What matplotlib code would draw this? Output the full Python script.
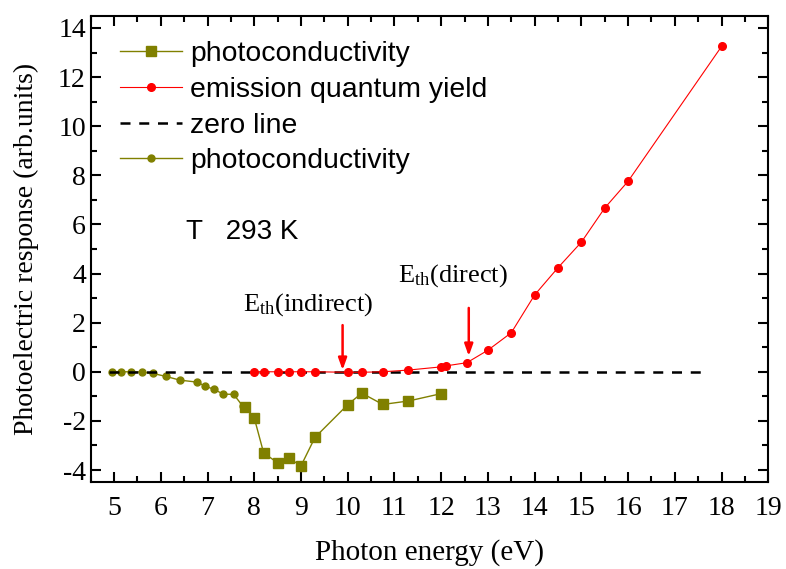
import matplotlib
matplotlib.use("Agg")
import matplotlib.pyplot as plt
from matplotlib.ticker import MultipleLocator

# Data
pc_sq_x = [7.8, 8.0, 8.2, 8.5, 8.75, 9.0, 9.3, 10.0, 10.3, 10.75, 11.3, 12.0]
pc_sq_y = [-1.42, -1.88, -3.30, -3.71, -3.53, -3.83, -2.67, -1.34, -0.87, -1.33, -1.19, -0.89]

pc_ci_x = [4.95, 5.14, 5.36, 5.59, 5.84, 6.11, 6.41, 6.77, 6.95, 7.14, 7.34, 7.56, 7.75]
pc_ci_y = [0.0, 0.0, 0.0, -0.01, -0.07, -0.19, -0.34, -0.42, -0.58, -0.72, -0.91, -0.92, -1.39]

eqy_x = [8.0, 8.2, 8.5, 8.75, 9.0, 9.3, 10.0, 10.3, 10.75, 11.3, 12.0, 12.1, 12.55,
         13.0, 13.5, 14.0, 14.5, 15.0, 15.5, 16.0, 18.0]
eqy_y = [0.0, 0.0, 0.0, 0.0, 0.0, 0.0, -0.02, -0.02, 0.0, 0.07, 0.2, 0.24, 0.37,
         0.88, 1.59, 3.13, 4.24, 5.28, 6.67, 7.76, 13.25]

zero_x = [4.9, 17.7]
zero_y = [0.0, 0.0]

legend_labels = ["photoconductivity", "emission quantum yield", "zero line", "photoconductivity"]
x_ticks = list(range(5, 20))
y_ticks = list(range(-4, 15, 2))

olive = "#808000"
red = "#ff0000"

plt.rcParams['font.family'] = ['Liberation Serif', 'DejaVu Serif']
plt.rcParams['mathtext.fontset'] = 'custom'
plt.rcParams['mathtext.rm'] = 'Liberation Serif'
plt.rcParams['mathtext.it'] = 'Liberation Serif:italic'
plt.rcParams['axes.unicode_minus'] = False

fig = plt.figure(figsize=(7.86, 5.69), dpi=100)
ax = fig.add_axes([0.1154, 0.1524, 0.9775 - 0.1154, 0.9724 - 0.1524])

h1, = ax.plot(pc_sq_x, pc_sq_y, color=olive, lw=1.0, marker='s', ms=7, mec=olive, mfc=olive)
h2, = ax.plot(eqy_x, eqy_y, color=red, lw=0.8, marker='o', ms=5.5, mec=red, mfc=red, zorder=4)
h3, = ax.plot(zero_x, zero_y, color='black', lw=1.8, dashes=(4, 3.5), zorder=3)
h4, = ax.plot(pc_ci_x, pc_ci_y, color=olive, lw=1.0, marker='o', ms=5, mec=olive, mfc=olive)

ax.set_xlim(4.5, 19)
ax.set_ylim(-4.5, 14.5)
ax.set_xticks(x_ticks)
ax.set_yticks(y_ticks)
ax.xaxis.set_minor_locator(MultipleLocator(0.5))
ax.yaxis.set_minor_locator(MultipleLocator(1))
ax.tick_params(which='both', direction='in', top=True, right=True, width=1.5, labelsize=20)
ax.tick_params(which='major', length=7)
ax.tick_params(which='minor', length=4)
ax.tick_params(axis='x', pad=10)
for s in ax.spines.values():
    s.set_linewidth(1.5)

ax.set_xlabel("Photon energy (eV)", fontsize=21, labelpad=13)
ax.set_ylabel("Photoelectric response (arb.units)", fontsize=20, labelpad=14)

leg = ax.legend([h1, h2, h3, h4], legend_labels, loc='upper left', frameon=False,
                prop={'family': 'Liberation Sans', 'size': 20.4},
                bbox_to_anchor=(0.0432, 0.945), handlelength=2.2, handletextpad=0.28,
                labelspacing=0.34, borderaxespad=0.0, borderpad=0.0)

ax.text(6.54, 5.39, "T   293 K", fontsize=20, family='Liberation Sans')
ax.text(7.75, 2.5, r"E$_{\mathrm{th}}$(indirect)", fontsize=19)
ax.text(11.07, 3.66, r"E$_{\mathrm{th}}$(direct)", fontsize=19)

ax.annotate("", xy=(9.89, 0.07), xytext=(9.89, 1.9),
            arrowprops=dict(arrowstyle='-|>,head_width=0.25,head_length=0.7', color=red, lw=1.8,
                            shrinkA=0, shrinkB=0))
ax.annotate("", xy=(12.59, 0.64), xytext=(12.59, 2.6),
            arrowprops=dict(arrowstyle='-|>,head_width=0.25,head_length=0.7', color=red, lw=1.8,
                            shrinkA=0, shrinkB=0))

fig.savefig("out.png", dpi=100)
